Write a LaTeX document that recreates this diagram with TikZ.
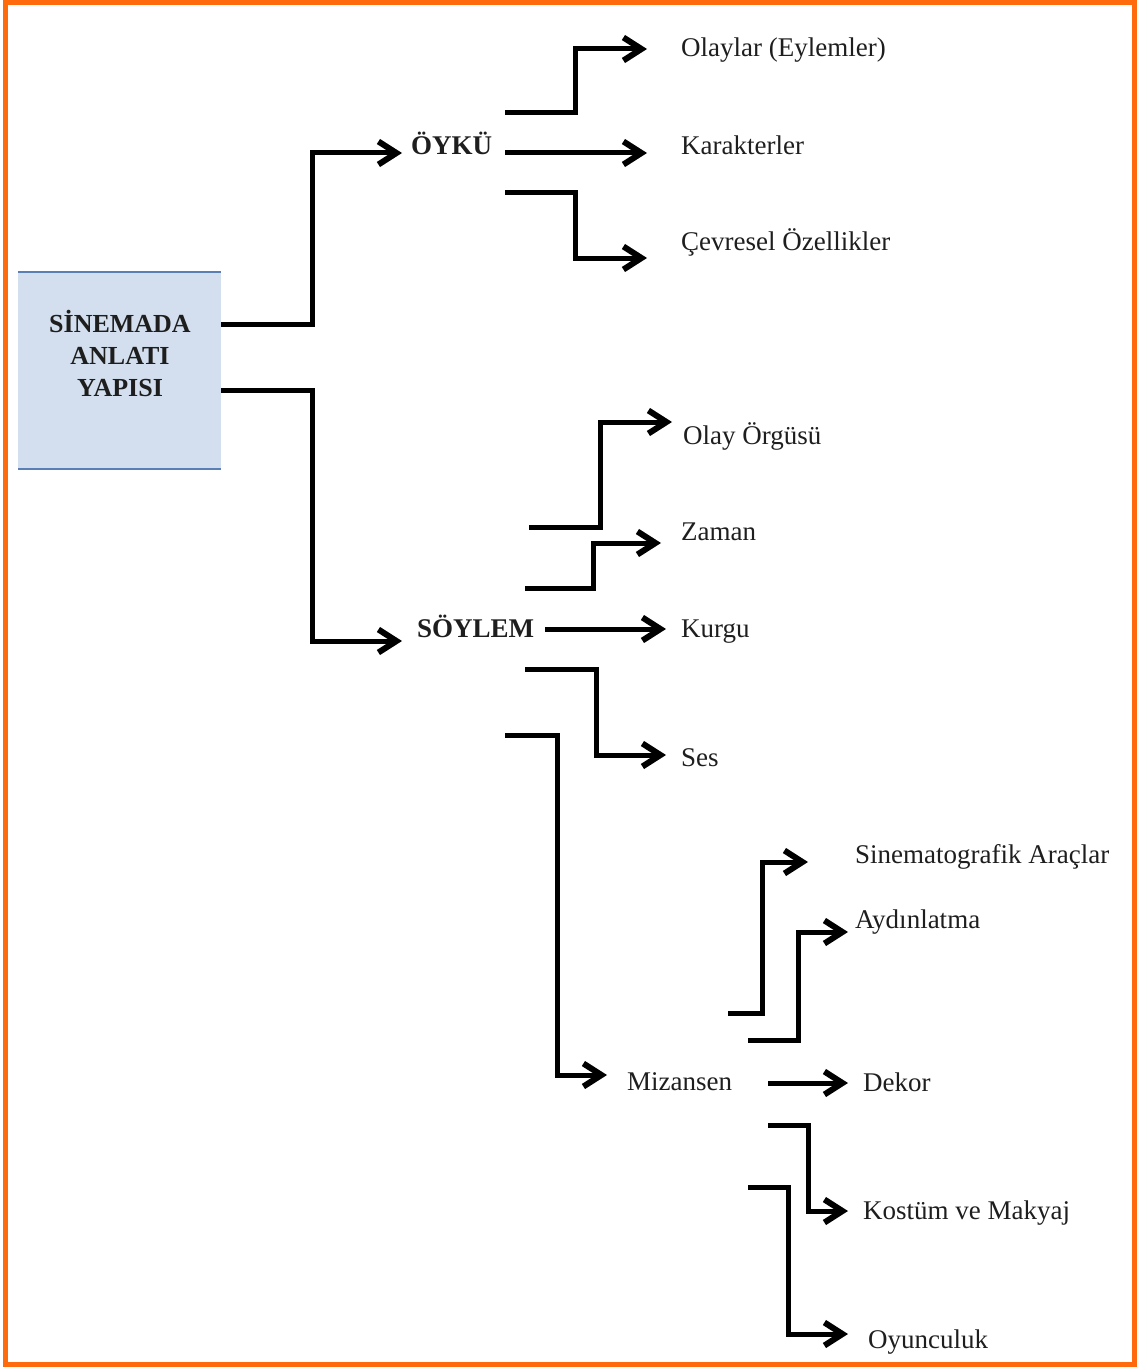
\documentclass[tikz,border=0pt]{standalone}
\usepackage{fontspec}
\setmainfont{Liberation Serif}
\usetikzlibrary{arrows.meta}
\definecolor{frameorange}{HTML}{FF6A0D}
\definecolor{boxfill}{HTML}{D3DFEE}
\definecolor{boxline}{HTML}{5A7FB5}
\definecolor{ink}{HTML}{1E1E1E}
\begin{document}
\begin{tikzpicture}[x=1pt,y=-1pt,
  conn/.style={line width=5pt, draw=black, -{Straight Barb[length=18pt,width=23pt,line width=6pt]}},
  lbl/.style={anchor=west, inner sep=0pt, text height=17pt, text depth=0pt, font=\fontsize{27}{30}\selectfont, text=ink},
  blbl/.style={lbl, font=\fontsize{27}{30}\selectfont\bfseries}]
\useasboundingbox (0,0) rectangle (1138,1367);
\draw[frameorange, line width=5pt] (5,3) rectangle (1134,1364);
% root box
\node[fill=boxfill, minimum width=203pt, minimum height=197pt, inner sep=0pt] (root) at (119.5,370.5) {};
\draw[boxline, line width=2pt] (root.north west) -- (root.north east) (root.south west) -- (root.south east);
\node[align=center, inner sep=0pt, font=\fontsize{26}{32}\selectfont\bfseries, text=ink] (roottext) at (120,353) {SİNEMADA\\ANLATI\\YAPISI};
% labels
\node[blbl] (oyku) at (411,146) {ÖYKÜ};
\node[blbl] (soylem) at (417,629) {SÖYLEM};
\node[lbl] (olaylar) at (681,48) {Olaylar (Eylemler)};
\node[lbl] (karakter) at (681,146) {Karakterler};
\node[lbl] (cevre) at (681,242) {Çevresel Özellikler};
\node[lbl] (olayorgu) at (683,436) {Olay Örgüsü};
\node[lbl] (zaman) at (681,532) {Zaman};
\node[lbl] (kurgu) at (681,629) {Kurgu};
\node[lbl] (ses) at (681,758) {Ses};
\node[lbl] (mizansen) at (627,1082) {Mizansen};
\node[lbl] (sinema) at (855,855) {Sinematografik Araçlar};
\node[lbl] (aydin) at (855,920) {Aydınlatma};
\node[lbl] (dekor) at (863,1083) {Dekor};
\node[lbl] (kostum) at (863,1211) {Kostüm ve Makyaj};
\node[lbl] (oyun) at (868,1340) {Oyunculuk};
% connectors from root
\draw[conn] ([shift={(0,-46.5)}]root.east) -- ++(91,0) |- ([shift={(-9,7)}]oyku.west);
\draw[conn] ([shift={(0,19.5)}]root.east) -- ++(91,0) |- ([shift={(-15,12)}]soylem.west);
% from oyku
\draw[conn] ([shift={(94,-33)}]oyku.west) -- ++(70,0) |- ([shift={(-34,1)}]olaylar.west);
\draw[conn] ([shift={(94,7)}]oyku.west) -- ([shift={(-34,7)}]karakter.west);
\draw[conn] ([shift={(94,47)}]oyku.west) -- ++(70,0) |- ([shift={(-34,16)}]cevre.west);
% from soylem
\draw[conn] ([shift={(112,-102)}]soylem.west) -- ++(71,0) |- ([shift={(-11,-14)}]olayorgu.west);
\draw[conn] ([shift={(108,-41)}]soylem.west) -- ++(68,0) |- ([shift={(-20,11)}]zaman.west);
\draw[conn] ([shift={(128,0)}]soylem.west) -- ([shift={(-15,0)}]kurgu.west);
\draw[conn] ([shift={(108,40)}]soylem.west) -- ++(71,0) |- ([shift={(-15,-3)}]ses.west);
\draw[conn] ([shift={(88,106)}]soylem.west) -- ++(52,0) |- ([shift={(-20,-7)}]mizansen.west);
% from mizansen
\draw[conn] ([shift={(101,-69)}]mizansen.west) -- ++(34,0) |- ([shift={(-47,7)}]sinema.west);
\draw[conn] ([shift={(121,-42)}]mizansen.west) -- ++(50,0) |- ([shift={(-7,12)}]aydin.west);
\draw[conn] ([shift={(141,1)}]mizansen.west) -- ([shift={(-15,0)}]dekor.west);
\draw[conn] ([shift={(141,43)}]mizansen.west) -- ++(40,0) |- ([shift={(-15,0)}]kostum.west);
\draw[conn] ([shift={(121,105)}]mizansen.west) -- ++(40,0) |- ([shift={(-20,-6)}]oyun.west);
\end{tikzpicture}
\end{document}
